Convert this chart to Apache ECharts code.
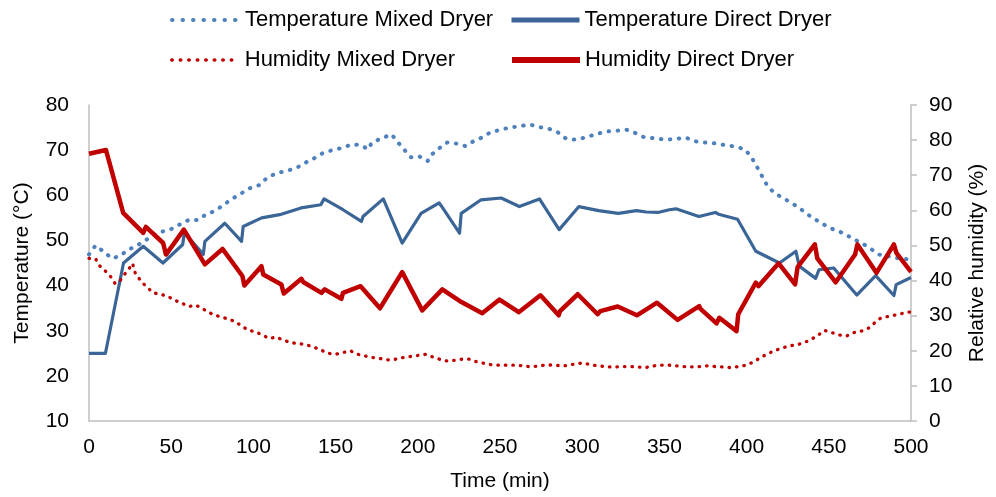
<!DOCTYPE html>
<html>
<head>
<meta charset="utf-8">
<script src="https://cdn.jsdelivr.net/npm/echarts@6/dist/echarts.min.js"></script>
<style>
html,body{margin:0;padding:0;background:#fff;}
#chart{width:996px;height:497px;}
</style>
</head>
<body>
<div id="chart"></div>
<script>
// ---- Data ----
const seriesNames = ['Temperature Mixed Dryer', 'Temperature Direct Dryer', 'Humidity Mixed Dryer', 'Humidity Direct Dryer'];
const xTicks = [0, 50, 100, 150, 200, 250, 300, 350, 400, 450, 500];

const tempMixedTime = [0,4,9,14,19,24,28,33,38,44,50,55,61,66,71,77,82,87,93,98,104,108,114,120,126,131,137,142,148,154,160,165,170,172,178,184,188,192,196,201,206,208,213,218,223,229,233,239,244,250,256,262,268,274,280,285,290,296,302,308,314,321,327,333,338,345,351,357,363,368,374,381,387,393,399,403,406,409,412,416,421,427,432,437,442,448,453,459,464,470,475,480,486,491,497,500];
const tempMixedVal  = [46.9,48.9,47.5,46,46.6,48,48.6,49.7,50.9,51.9,52.5,53.5,54.6,54.5,55.7,56.6,57.9,59.2,60.5,61.6,62.3,63.8,64.9,65.4,66,67.1,68.2,69.3,70,70.5,71.3,71.1,70.2,71.7,72.6,73.5,71.7,70,68.4,68.6,67.6,68.9,70.4,71.7,71.5,70.9,71.8,72.8,73.9,74.5,75,75.3,75.7,75.1,74.7,74,72.6,72.3,72.8,73.5,74.1,74.3,74.5,73.7,72.8,72.6,72.3,72.5,72.8,72,71.7,71.5,71.1,70.8,70.2,68.4,66.5,64.5,62.5,60.8,59.6,58.4,57.2,55.8,54.6,53.3,52.4,51.6,50.5,49.4,48.3,46.9,46.5,46.1,45.9,45.6];

const tempDirectTime = [0,10,21,33,45,57,58,69.5,70.5,82.6,92.8,93.8,105,116,129,141,143,154.5,165.7,166.7,179,190.5,202,213,214,225.4,226.4,238.5,250.7,261.8,274,286,298,310,322,333,339,346,353,357,371,381,383,394.5,405.6,420,430,432,442,444,453,467,478.5,489.6,491,500];
const tempDirectVal  = [25,25,45,48.7,45,49.1,51.7,46.9,49.8,53.8,49.8,53.1,55,55.7,57.2,57.9,59.2,56.8,54.2,55.3,59.2,49.4,56,58.3,57.8,51.6,56,59,59.4,57.5,59.2,52.4,57.5,56.6,56,56.6,56.3,56.2,56.8,57,55.3,56.2,55.8,54.7,47.6,45,47.6,44.3,41.6,43.5,43.9,37.9,42.2,37.8,40.2,41.8];

const humMixedTime = [0,4,6,10,13.4,15.8,18.4,20.8,24.1,26.5,28.2,32,35.6,39.1,43.7,48.2,52.2,56.7,60.9,64.4,67.4,71.5,75.9,80.6,85,89.3,93.3,97.4,101.5,105.5,110,113.6,118,122.7,127.2,132.2,136.3,140.7,145.4,150,154.5,158.9,163.6,168,172.3,176.8,181.8,186.5,191.4,196,200.7,205.1,208.7,213.2,217.7,222.4,227,231.5,236.1,240.6,245.2,250,254.7,259.8,264.2,268.9,274,278.4,283.1,287.7,292.2,296.7,301.3,306,310.4,315.1,320,324.6,329.3,333.7,338.4,343.3,347.9,352.6,357.4,362.1,366.7,371.6,376.2,380.9,385.8,390.4,395.1,399.9,404,408,412.1,416.8,421.2,425.9,430.5,435,439.4,443.5,447.2,451.8,456.2,460.7,465.4,469.8,474,477.5,481.2,485.2,489.6,494.3,498.8,500];
const humMixedVal  = [46.3,46.2,44.4,42.7,41,39.2,39.6,41.3,43.2,44.9,42,39.6,38,36.5,36.1,35.4,34.4,33.5,32.6,33,32.5,31.3,30.2,29.6,29,28.2,26.9,25.8,25.4,24.4,23.5,23.9,23.1,22.3,22.1,21.7,21.1,20.3,19.3,19,19.5,20,19,18.5,18.1,17.8,17.4,17.6,18.1,18.4,18.7,19,18.3,17.6,17.1,17.3,17.6,17.6,16.8,16.4,16,15.9,15.9,15.9,15.7,15.4,15.7,16,15.9,15.7,15.9,16.4,16.5,15.9,15.7,15.4,15.4,15.5,15.5,15.4,15.2,15.7,15.9,15.9,15.7,15.5,15.4,15.5,15.7,15.5,15.4,15.2,15.5,15.9,16.8,17.9,19,20,20.7,21.4,21.7,22.3,23.3,24.4,25.8,25.2,24.5,24.2,25.2,25.6,26.4,27.8,29.2,29.7,30.1,30.6,31,31.1];

const humDirectTime = [0,10.3,20.8,33,34.6,45.1,46.8,57.7,70.5,81.2,93.3,94.5,104.9,106,117,118.5,129.2,130.5,141.4,143.4,153.5,154.5,165.2,177,190.5,202.7,214.9,225.4,239.2,249.7,261.4,274.6,285.7,286.5,297.3,309.4,311,321.6,333.3,345.5,358,371.2,371.8,381.7,383.4,393.9,394.9,405.6,407.2,419.5,429.5,431,441.5,443,454.2,466,467.4,479,489.6,491.1,500];
const humDirectVal  = [76.1,77.2,59.3,53.6,55.3,50.7,47.4,54.5,44.6,49,41.3,38.6,44.1,41.7,38.9,36.3,40.5,39.5,36.5,37.5,34.8,36.5,38.4,32.1,42.4,31.5,37.5,34.2,30.7,34.6,31,35.8,30.1,31.3,36.1,30.4,31.3,32.6,30.1,33.7,28.8,32.7,32,27.8,29.4,25.6,30.4,39.4,38.4,44.9,38.9,43.8,50.3,46.3,39.5,47.4,50.3,42.2,50.3,47.9,42.5];

// ---- helpers ----
function zip(a, b) { return a.map((t, i) => [t, b[i]]); }

const FONT = '"Liberation Sans", Arial, sans-serif';
const C_TM = '#4f81bd';
const C_TD = '#3a6596';
const C_H  = '#c00000';
const AXIS_C = '#bfbfbf';

const chart = echarts.init(document.getElementById('chart'), null, { renderer: 'canvas' });

function legendAt(name, left, top, lineStyle) {
  return {
    data: [name], left: left, top: top, orient: 'horizontal',
    itemWidth: 68, itemHeight: 14, padding: 0, itemGap: 0,
    itemStyle: { opacity: 0, borderWidth: 0 },
    lineStyle: lineStyle,
    textStyle: { fontFamily: FONT, fontSize: 22, color: '#000', padding: [0, 0, 0, 0] },
    selectedMode: false
  };
}

const option = {
  animation: false,
  backgroundColor: '#fff',
  textStyle: { fontFamily: FONT },
  legend: [
    legendAt(seriesNames[0], 170, 9, { width: 4, type: [0.5, 10], cap: 'round' }),
    legendAt(seriesNames[1], 509, 9, { width: 5 }),
    legendAt(seriesNames[2], 170, 49, { width: 3.5, type: [0.5, 8], cap: 'round' }),
    legendAt(seriesNames[3], 509, 49, { width: 6 })
  ],
  grid: { left: 89, right: 83, top: 105, bottom: 75, containLabel: false },
  xAxis: {
    type: 'value', min: 0, max: 500, interval: 50,
    name: 'Time (min)', nameLocation: 'middle', nameGap: 50,
    nameTextStyle: { fontFamily: FONT, fontSize: 21, color: '#000' },
    axisLine: { show: true, lineStyle: { color: AXIS_C, width: 1.5 } },
    axisTick: { show: false },
    axisLabel: { fontFamily: FONT, fontSize: 21, color: '#000', margin: 16 },
    splitLine: { show: false }
  },
  yAxis: [
    {
      type: 'value', min: 10, max: 80, interval: 10, position: 'left',
      name: 'Temperature (°C)', nameLocation: 'middle', nameGap: 56, nameRotate: 90,
      nameTextStyle: { fontFamily: FONT, fontSize: 21, color: '#000' },
      axisLine: { show: true, lineStyle: { color: AXIS_C, width: 1.5 } },
      axisTick: { show: false },
      axisLabel: { fontFamily: FONT, fontSize: 21, color: '#000', margin: 20 },
      splitLine: { show: false }
    },
    {
      type: 'value', min: 0, max: 90, interval: 10, position: 'right',
      name: 'Relative humidity (%)', nameLocation: 'middle', nameGap: 56, nameRotate: 90,
      nameTextStyle: { fontFamily: FONT, fontSize: 21, color: '#000' },
      axisLine: { show: true, lineStyle: { color: AXIS_C, width: 1.5 } },
      axisTick: { show: true, length: 6, inside: false, lineStyle: { color: AXIS_C, width: 1.5 } },
      axisLabel: { fontFamily: FONT, fontSize: 21, color: '#000', margin: 18 },
      splitLine: { show: false }
    }
  ],
  series: [
    {
      name: seriesNames[0], type: 'line', yAxisIndex: 0,
      data: zip(tempMixedTime, tempMixedVal),
      symbol: 'none', showSymbol: false,
      lineStyle: { color: C_TM, width: 4, type: [0.5, 8.5], cap: 'round', join: 'round' },
      itemStyle: { color: C_TM }
    },
    {
      name: seriesNames[1], type: 'line', yAxisIndex: 0,
      data: zip(tempDirectTime, tempDirectVal),
      symbol: 'none', showSymbol: false,
      lineStyle: { color: C_TD, width: 3.2, join: 'round' },
      itemStyle: { color: C_TD }
    },
    {
      name: seriesNames[2], type: 'line', yAxisIndex: 1,
      data: zip(humMixedTime, humMixedVal),
      symbol: 'none', showSymbol: false,
      lineStyle: { color: C_H, width: 3.3, type: [0.5, 7], cap: 'round', join: 'round' },
      itemStyle: { color: C_H }
    },
    {
      name: seriesNames[3], type: 'line', yAxisIndex: 1,
      data: zip(humDirectTime, humDirectVal),
      symbol: 'none', showSymbol: false,
      lineStyle: { color: C_H, width: 4.5, join: 'round' },
      itemStyle: { color: C_H }
    }
  ]
};

chart.setOption(option);
</script>
</body>
</html>
